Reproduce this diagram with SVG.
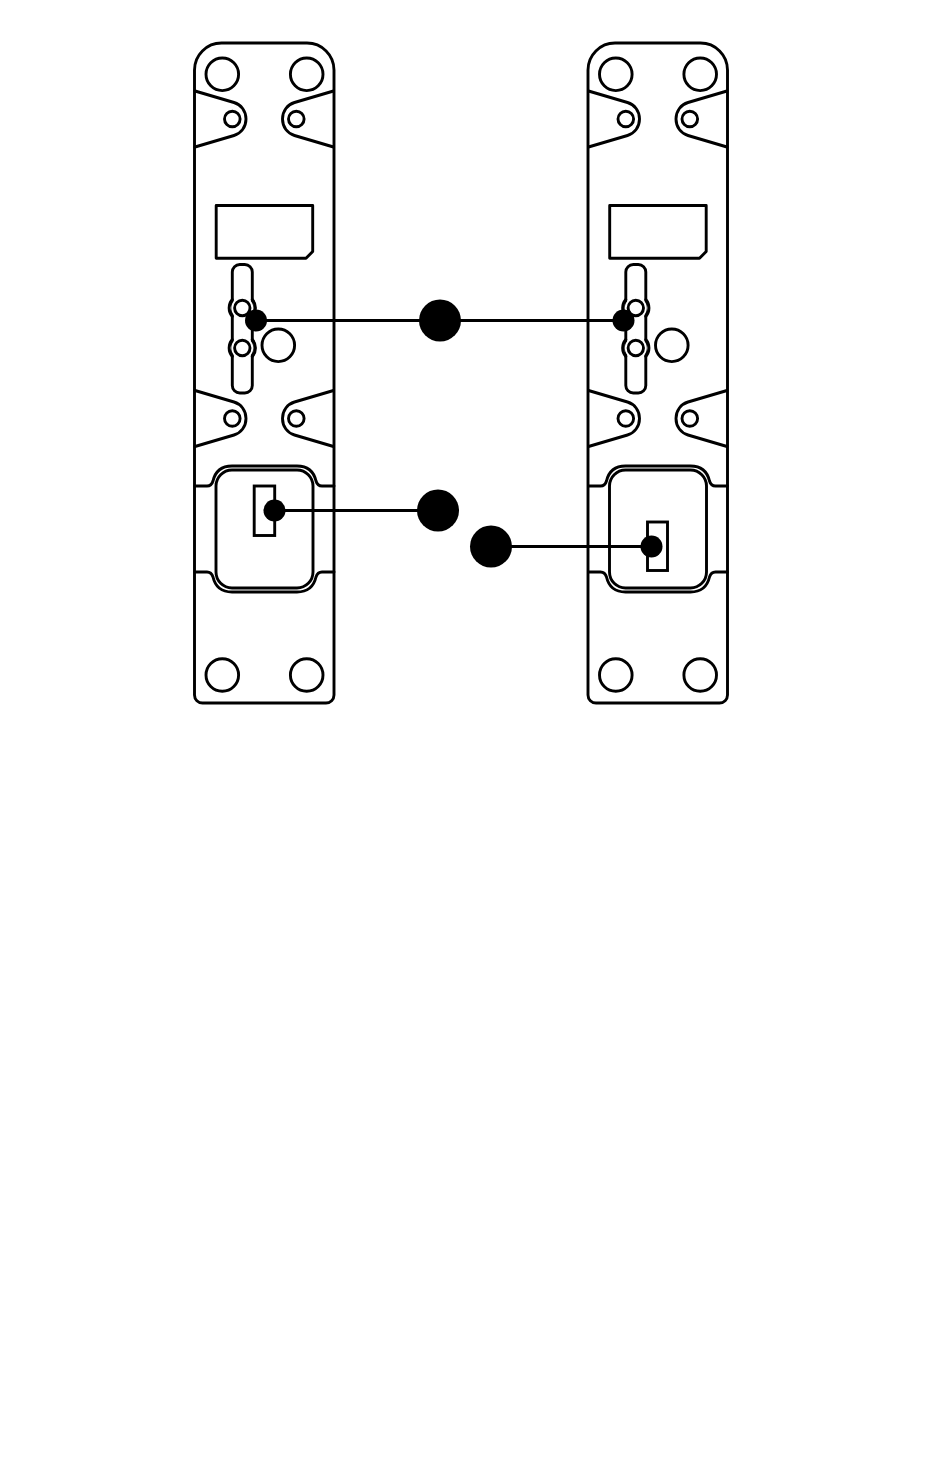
<svg xmlns="http://www.w3.org/2000/svg" width="950" height="1477" viewBox="0 0 950 1477">
<style>
.l{fill:none;stroke:#000;stroke-width:2.9;stroke-linejoin:round;stroke-linecap:round}
.c{fill:none;stroke:#000;stroke-width:2.9}
.h{fill:#fff}
.d{fill:#000}
</style>
<defs>
<g id="brackets">
<path class="l" d="M195 91L234 102.500C241 104.500 246 111 246 119C246 127 241 133.500 234 135.500L195 147"/>
<circle class="c" cx="232.300" cy="119" r="7.800"/>
<path class="l" d="M333.500 91L294.500 102.500C287.500 104.500 282.500 111 282.500 119C282.500 127 287.500 133.500 294.500 135.500L333.500 147"/>
<circle class="c" cx="296.300" cy="119" r="7.800"/>
</g>
<g id="stud">
<circle class="h" cx="242.300" cy="0" r="11"/>
<path class="l" d="M232.300 -8.500A13 13 0 0 0 232.300 8.500M252.300 -8.500A13 13 0 0 1 252.300 8.500"/>
<circle class="c" cx="242.300" cy="0" r="7.700"/>
</g>
<g id="plate">
<path class="l" d="M194.500 70A27 27 0 0 1 221.500 43H307A27 27 0 0 1 334 70V695A8 8 0 0 1 326 703H202.500A8 8 0 0 1 194.500 695Z"/>
<circle class="c" cx="222.300" cy="74.300" r="16.300"/>
<circle class="c" cx="306.700" cy="74.300" r="16.300"/>
<circle class="c" cx="222.300" cy="675" r="16.300"/>
<circle class="c" cx="306.700" cy="675" r="16.300"/>
<use href="#brackets"/>
<use href="#brackets" y="299.500"/>
<path class="l" d="M216.200 205.500H312.700V251.500L306 258.300H216.200Z"/>
<rect class="c" x="232.300" y="264.500" width="20" height="128.500" rx="7.500"/>
<use href="#stud" y="308"/>
<use href="#stud" y="348"/>
<circle class="c" cx="278.300" cy="345.300" r="16.300"/>
<rect class="c" x="216" y="470" width="97" height="118" rx="16"/>
<path class="l" d="M195 486H207Q211.500 486 213 481Q216.500 466 232 466H297Q312.500 466 316 481Q317.500 486 322 486H334"/>
<path class="l" d="M195 572H207Q211.500 572 213 577Q216.500 592 232 592H297Q312.500 592 316 577Q317.500 572 322 572H334"/>
</g>
</defs>
<g id="left-plate">
<use href="#plate"/>
<rect class="c" x="254.200" y="486" width="20.500" height="49.500"/>
</g>
<g id="right-plate">
<use href="#plate" x="393.500"/>
<rect class="c" x="647.500" y="522" width="20" height="48.500"/>
</g>
<g id="connectors">
<path class="l" d="M256 320.500H623.500M274.500 510.500H438M491 546.500H651.500"/>
</g>
<g id="callout-1"><circle class="d" cx="440" cy="320.500" r="21"/></g>
<g id="callout-2"><circle class="d" cx="438" cy="510.500" r="21"/></g>
<g id="callout-3"><circle class="d" cx="491" cy="546.500" r="21"/></g>
<g id="dot-a"><circle class="d" cx="256" cy="320.500" r="11"/></g>
<g id="dot-b"><circle class="d" cx="623.500" cy="320.500" r="11"/></g>
<g id="dot-c"><circle class="d" cx="274.500" cy="510.500" r="11"/></g>
<g id="dot-d"><circle class="d" cx="651.500" cy="546.500" r="11"/></g>
</svg>
